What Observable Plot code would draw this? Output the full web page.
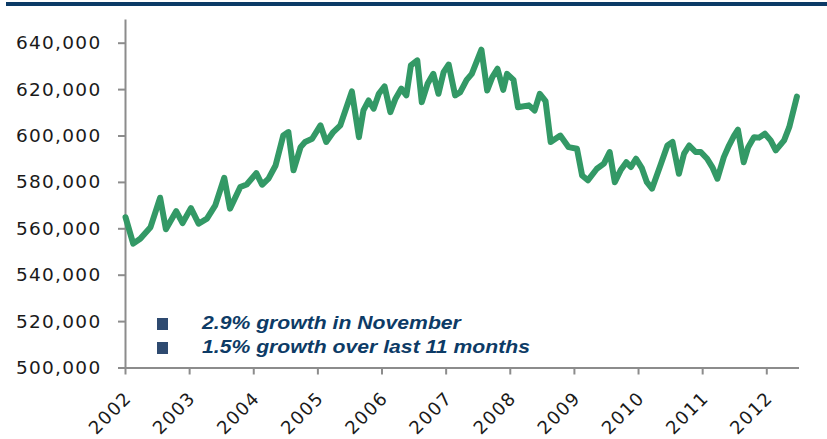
<!DOCTYPE html>
<html>
<head>
<meta charset="utf-8">
<script src="https://cdn.jsdelivr.net/npm/d3@7"></script>
<script src="https://cdn.jsdelivr.net/npm/@observablehq/plot@0.6"></script>
<style>
  html, body { margin: 0; padding: 0; background: #fff; }
  #wrap { position: relative; width: 827px; height: 439px; overflow: hidden; }
  #topbar { position: absolute; left: 6px; top: 2px; width: 821px; height: 4px; background: #0b3a66; }
  .sq { position: absolute; width: 11px; height: 12px; background: #2e4a70; left: 157px; }
  .lt { position: absolute; left: 202px; font-family: "Liberation Sans", Arial, sans-serif; font-weight: bold; font-style: italic;
        font-size: 17.5px; line-height: 17.5px; color: #0d3b66; white-space: nowrap; transform: scaleX(1.21); transform-origin: 0 0; }
  svg g[aria-label="y-axis tick label"] text { letter-spacing: 1.3px; }
  svg g.xlab text { letter-spacing: 1.4px; }
</style>
</head>
<body>
<div id="wrap">
  <div id="chart"></div>
  <div id="topbar"></div>
  <div class="sq" style="top:318px"></div>
  <div class="lt" style="top:315px">2.9% growth in November</div>
  <div class="sq" style="top:342px"></div>
  <div class="lt" style="top:339px">1.5% growth over last 11 months</div>
</div>
<script>
const years = [
  2002.00, 2002.12, 2002.23, 2002.39, 2002.54, 2002.63, 2002.79, 2002.89,
  2003.02, 2003.14, 2003.27, 2003.40, 2003.54, 2003.63, 2003.79, 2003.89,
  2004.04, 2004.13, 2004.23, 2004.34, 2004.46, 2004.54, 2004.62, 2004.73, 2004.80, 2004.91,
  2005.04, 2005.13, 2005.24, 2005.35, 2005.53, 2005.64, 2005.71, 2005.79, 2005.87, 2005.95,
  2006.04, 2006.13, 2006.21, 2006.30, 2006.38, 2006.45, 2006.55, 2006.62, 2006.71, 2006.80, 2006.88, 2006.96,
  2007.04, 2007.14, 2007.22, 2007.32, 2007.40, 2007.55, 2007.64, 2007.72, 2007.80, 2007.89, 2007.95,
  2008.05, 2008.12, 2008.29, 2008.38, 2008.46, 2008.55, 2008.63, 2008.78, 2008.91,
  2009.04, 2009.12, 2009.21, 2009.35, 2009.46, 2009.55, 2009.63, 2009.72, 2009.81, 2009.88, 2009.96,
  2010.05, 2010.13, 2010.21, 2010.34, 2010.45, 2010.53, 2010.63, 2010.71, 2010.79, 2010.89, 2010.97,
  2011.07, 2011.15, 2011.23, 2011.33, 2011.41, 2011.49, 2011.55, 2011.64, 2011.71, 2011.80, 2011.88, 2011.97,
  2012.06, 2012.14, 2012.27, 2012.35, 2012.47
];
const values = [
  565000, 553600, 555700, 560700, 573400, 559800, 567600, 562500,
  568900, 562200, 564400, 570100, 582000, 568700, 578000, 579100,
  584000, 579000, 581600, 587300, 600200, 601700, 585200, 595200, 597400, 598800,
  604600, 597400, 601700, 604600, 619200, 599500, 611000, 615300, 611800, 618200,
  621400, 610300, 616100, 620400, 617500, 630400, 632600, 614600, 622500, 626800, 618200, 627500,
  630800, 617500, 618900, 624200, 626800, 637200, 619600, 625400, 629000, 619900, 626800,
  624200, 612400, 613200, 611000, 618200, 615000, 597400, 600200, 595200,
  594500, 583000, 580900, 585900, 588100, 593100, 580100, 585200, 588700, 586600, 590200,
  586300, 580100, 577300, 587300, 595900, 597400, 583700, 592400, 595900, 593100, 593100,
  590200, 586600, 581600, 590900, 595900, 600200, 602700, 588700, 595200, 599500, 599300, 601000,
  598100, 593800, 598100, 603800, 617000
];
const yTicks = [500000, 520000, 540000, 560000, 580000, 600000, 620000, 640000];
const xTicks = [2002, 2003, 2004, 2005, 2006, 2007, 2008, 2009, 2010, 2011, 2012];

const data = years.map((t, i) => ({t, v: values[i]}));
const axisGray = "#8c8c8c";

const chart = Plot.plot({
  width: 827,
  height: 439,
  marginLeft: 125,
  marginRight: 28,
  marginTop: 19.5,
  marginBottom: 71.5,
  style: {fontFamily: "DejaVu Sans", background: "transparent", color: "#1a1a1a", overflow: "visible"},
  x: {domain: [2002, 2012.51]},
  y: {domain: [500000, 650000]},
  marks: [
    Plot.axisY({ticks: yTicks, tickSize: 7, tickPadding: 17, tickFormat: d3.format(","), fontSize: 18.5,
                stroke: axisGray, strokeWidth: 2, fill: "#1a1a1a", label: null}),
    Plot.axisX({ticks: xTicks, tickSize: 7, tickFormat: () => "", stroke: axisGray, strokeWidth: 2, label: null}),
    Plot.ruleX([2002], {stroke: axisGray, strokeWidth: 2}),
    Plot.ruleY([500000], {stroke: axisGray, strokeWidth: 2}),
    Plot.text(xTicks, {x: d => d, text: d => String(d), frameAnchor: "bottom", dy: 27, dx: 3, rotate: -45,
                       textAnchor: "end", lineAnchor: "middle", fontSize: 18, fill: "#1a1a1a", className: "xlab"}),
    Plot.line(data, {x: "t", y: "v", stroke: "#339966", strokeWidth: 6, strokeLinejoin: "round", strokeLinecap: "round"})
  ]
});
document.getElementById("chart").appendChild(chart);
</script>
</body>
</html>
